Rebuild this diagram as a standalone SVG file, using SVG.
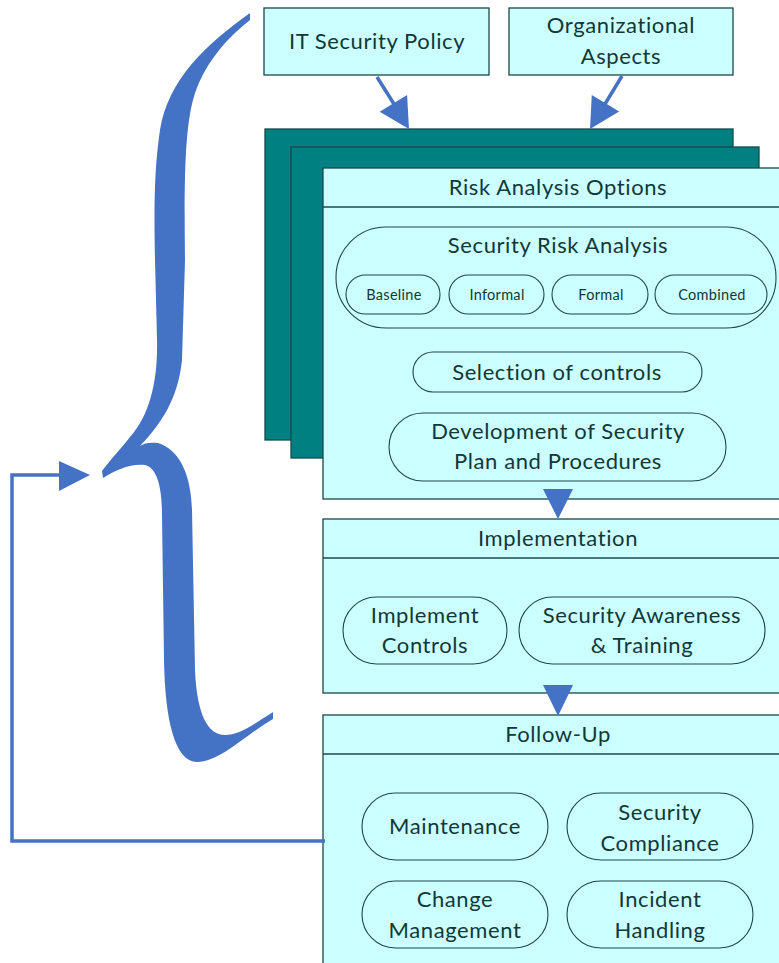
<svg xmlns="http://www.w3.org/2000/svg" width="779" height="963" viewBox="0 0 779 963">
  <style>
    .box { fill: #ccffff; stroke: #1d4747; stroke-width: 1.3; }
    .stack { fill: #008080; stroke: #134c4c; stroke-width: 1.3; }
    .pill { fill: #ccffff; stroke: #1d4747; stroke-width: 1.1; }
    .rule { stroke: #1d4747; stroke-width: 1.3; }
    text { font-family: Lato, "Liberation Sans", sans-serif; fill: #103838; text-anchor: middle; }
    .t { font-size: 22px; letter-spacing: 0.6px; }
    .s { font-size: 14.5px; letter-spacing: 0.3px; }
    .flow { fill: #4472c4; }
    .wire { fill: none; stroke: #4472c4; stroke-width: 3.5; }
  </style>

  <!-- input boxes -->
  <g id="it-security-policy">
    <rect class="box" x="264" y="8" width="225" height="67"/>
    <text class="t" x="377" y="49">IT Security Policy</text>
  </g>
  <g id="organizational-aspects">
    <rect class="box" x="509" y="8" width="224" height="67"/>
    <text class="t" x="621" y="33">Organizational</text>
    <text class="t" x="621" y="64">Aspects</text>
  </g>

  <!-- stacked option sheets -->
  <g id="option-sheets">
    <rect class="stack" x="265" y="129" width="468" height="311"/>
    <rect class="stack" x="291" y="147" width="468" height="311"/>
  </g>

  <!-- risk analysis options -->
  <g id="risk-analysis-options">
    <rect class="box" x="323" y="168" width="470" height="331"/>
    <line class="rule" x1="323" y1="207" x2="793" y2="207"/>
    <text class="t" x="558" y="195">Risk Analysis Options</text>
  </g>
  <g id="security-risk-analysis">
    <rect class="pill" x="336" y="227" width="440" height="101" rx="50" ry="50"/>
    <text class="t" x="558" y="253">Security Risk Analysis</text>
  </g>
  <g id="baseline">
    <rect class="pill" x="346" y="275" width="94" height="39" rx="19.5"/>
    <text class="s" x="394" y="300">Baseline</text>
  </g>
  <g id="informal">
    <rect class="pill" x="449" y="275" width="95" height="39" rx="19.5"/>
    <text class="s" x="497" y="300">Informal</text>
  </g>
  <g id="formal">
    <rect class="pill" x="552" y="275" width="96" height="39" rx="19.5"/>
    <text class="s" x="601" y="300">Formal</text>
  </g>
  <g id="combined">
    <rect class="pill" x="655" y="275" width="112" height="39" rx="19.5"/>
    <text class="s" x="712" y="300">Combined</text>
  </g>
  <g id="selection-of-controls">
    <rect class="pill" x="413" y="352" width="289" height="40" rx="20"/>
    <text class="t" x="557" y="380">Selection of controls</text>
  </g>
  <g id="security-plan">
    <rect class="pill" x="389" y="413" width="337" height="68" rx="34"/>
    <text class="t" x="558" y="439">Development of Security</text>
    <text class="t" x="558" y="469">Plan and Procedures</text>
  </g>

  <!-- implementation -->
  <g id="implementation">
    <rect class="box" x="323" y="519" width="470" height="174"/>
    <line class="rule" x1="323" y1="558" x2="793" y2="558"/>
    <text class="t" x="558" y="546">Implementation</text>
  </g>
  <g id="implement-controls">
    <rect class="pill" x="343" y="597" width="164" height="67" rx="33.5"/>
    <text class="t" x="425" y="623">Implement</text>
    <text class="t" x="425" y="653">Controls</text>
  </g>
  <g id="awareness-training">
    <rect class="pill" x="519" y="597" width="246" height="67" rx="33.5"/>
    <text class="t" x="642" y="623">Security Awareness</text>
    <text class="t" x="642" y="653">&amp; Training</text>
  </g>

  <!-- follow-up -->
  <g id="follow-up">
    <rect class="box" x="323" y="715" width="470" height="260"/>
    <line class="rule" x1="323" y1="754" x2="793" y2="754"/>
    <text class="t" x="558" y="742">Follow-Up</text>
  </g>
  <g id="maintenance">
    <rect class="pill" x="362" y="793" width="186" height="67" rx="33.5"/>
    <text class="t" x="455" y="834">Maintenance</text>
  </g>
  <g id="security-compliance">
    <rect class="pill" x="567" y="793" width="186" height="67" rx="33.5"/>
    <text class="t" x="660" y="820">Security</text>
    <text class="t" x="660" y="851">Compliance</text>
  </g>
  <g id="change-management">
    <rect class="pill" x="362" y="881" width="186" height="67" rx="33.5"/>
    <text class="t" x="455" y="907">Change</text>
    <text class="t" x="455" y="938">Management</text>
  </g>
  <g id="incident-handling">
    <rect class="pill" x="567" y="881" width="186" height="67" rx="33.5"/>
    <text class="t" x="660" y="907">Incident</text>
    <text class="t" x="660" y="938">Handling</text>
  </g>

  <!-- brace grouping the whole cycle -->
  <g id="cycle-brace">
    <path class="flow" d="M 250,13
      C 205,45 168,80 160,130
      C 154,170 154,210 155,260
      L 157,340
      C 158,380 150,415 130,437
      C 120,450 110,460 102,471
      L 103,478
      C 115,470 132,463 145,465
      C 158,468 162,490 162,515
      L 164,660
      C 165,720 175,762 197,762
      C 220,762 245,735 273,719
      L 273,712
      C 250,727 238,735 225,735
      C 208,735 197,715 195,670
      L 192,510
      C 191,475 180,450 158,443
      C 150,442 144,443 140,446
      C 160,425 178,400 182,360
      L 185,260
      C 184,180 185,130 193,100
      C 203,65 225,40 250,20 Z"/>
  </g>

  <!-- connectors -->
  <g id="connectors">
    <line class="wire" x1="377" y1="77" x2="394" y2="104"/>
    <polygon class="flow" points="409,129 379.7,111.7 407.1,95.1"/>
    <line class="wire" x1="622" y1="76" x2="605" y2="104"/>
    <polygon class="flow" points="590,129 619.2,111.6 591.8,95"/>
    <polygon class="flow" points="543,489 573,489 558,519"/>
    <polygon class="flow" points="543,685 573,685 558,716"/>
    <polyline class="wire" points="325,841 12,841 12,475 62,475"/>
    <polygon class="flow" points="59,461 90,475 59,491"/>
  </g>
</svg>
